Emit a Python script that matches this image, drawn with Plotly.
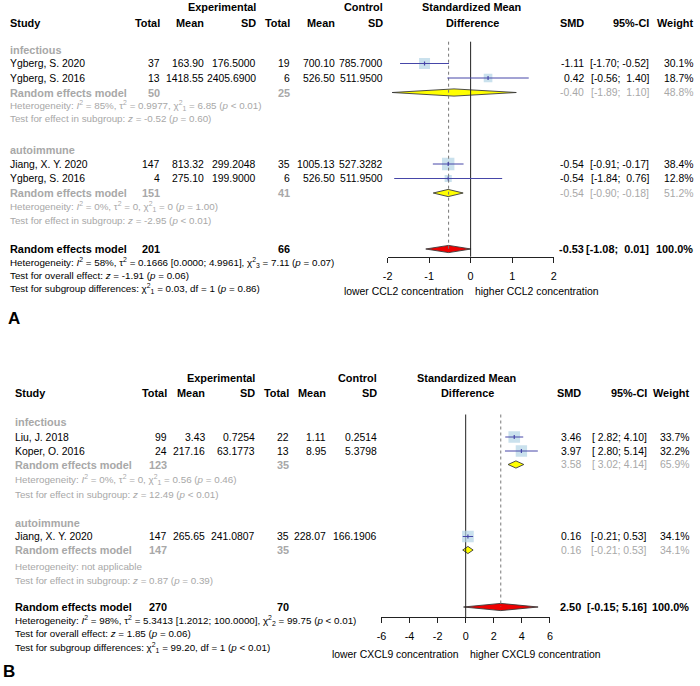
import math
import plotly.graph_objects as go

W, H = 700, 686
FONT = "Liberation Sans, Arial, Helvetica, sans-serif"
FS = 10.4      # main (regular) text size
FSB = 10.9     # bold text size
FSH = 9.8      # heterogeneity / test text size
GRAY = "#a8a8a8"
SQ_COL = "#b3d4e6"
CI_COL = "#4646a8"
NB = "\u00a0"

# ---------------- Panel A data (CCL2) ----------------
a_groups = ["infectious", "autoimmune"]
a_study = ["Ygberg, S. 2020", "Ygberg, S. 2016", "Jiang, X. Y. 2020", "Ygberg, S. 2016"]
a_group_of = [0, 0, 1, 1]
a_e_n = [37, 13, 147, 4]
a_e_mean = [163.90, 1418.55, 813.32, 275.10]
a_e_sd = [176.5000, 2405.6900, 299.2048, 199.9000]
a_c_n = [19, 6, 35, 6]
a_c_mean = [700.10, 526.50, 1005.13, 526.50]
a_c_sd = [785.7000, 511.9500, 527.3282, 511.9500]
a_smd = [-1.11, 0.42, -0.54, -0.54]
a_lo = [-1.70, -0.56, -0.91, -1.84]
a_hi = [-0.52, 1.40, -0.17, 0.76]
a_w = [30.1, 18.7, 38.4, 12.8]
a_sub_e_n = [50, 151]
a_sub_c_n = [25, 41]
a_sub_smd = [-0.40, -0.54]
a_sub_lo = [-1.89, -0.90]
a_sub_hi = [1.10, -0.18]
a_sub_w = [48.8, 51.2]
a_sub_I2 = ["85%", "0%"]
a_sub_tau2 = ["0.9977", "0"]
a_sub_Q = ["6.85", "0"]
a_sub_df = [1, 1]
a_sub_pQ = ["&lt; 0.01", "= 1.00"]
a_sub_z = ["-0.52", "-2.95"]
a_sub_pz = ["= 0.60", "&lt; 0.01"]
a_tot = dict(e_n=201, c_n=66, smd=-0.53, lo=-1.08, hi=0.01, w=100.0,
             I2="58%", tau2="0.1666 [0.0000; 4.9961]", Q="7.11", df=3, pQ="= 0.07",
             z="-1.91", pz="= 0.06", Qb="0.03", dfb=1, pb="= 0.86")
a_ticks = [-2, -1, 0, 1, 2]
a_lab_left = "lower CCL2 concentration"
a_lab_right = "higher CCL2 concentration"

# ---------------- Panel B data (CXCL9) ----------------
b_groups = ["infectious", "autoimmune"]
b_study = ["Liu, J. 2018", "Koper, O. 2016", "Jiang, X. Y. 2020"]
b_group_of = [0, 0, 1]
b_e_n = [99, 24, 147]
b_e_mean = [3.43, 217.16, 265.65]
b_e_sd = [0.7254, 63.1773, 241.0807]
b_c_n = [22, 13, 35]
b_c_mean = [1.11, 8.95, 228.07]
b_c_sd = [0.2514, 5.3798, 166.1906]
b_smd = [3.46, 3.97, 0.16]
b_lo = [2.82, 2.80, -0.21]
b_hi = [4.10, 5.14, 0.53]
b_w = [33.7, 32.2, 34.1]
b_sub_e_n = [123, 147]
b_sub_c_n = [35, 35]
b_sub_smd = [3.58, 0.16]
b_sub_lo = [3.02, -0.21]
b_sub_hi = [4.14, 0.53]
b_sub_w = [65.9, 34.1]
b_sub_I2 = ["0%", None]
b_sub_tau2 = ["0", None]
b_sub_Q = ["0.56", None]
b_sub_df = [1, None]
b_sub_pQ = ["= 0.46", None]
b_sub_z = ["12.49", "0.87"]
b_sub_pz = ["&lt; 0.01", "= 0.39"]
b_tot = dict(e_n=270, c_n=70, smd=2.50, lo=-0.15, hi=5.16, w=100.0,
             I2="98%", tau2="5.3413 [1.2012; 100.0000]", Q="99.75", df=2, pQ="&lt; 0.01",
             z="1.85", pz="= 0.06", Qb="99.20", dfb=1, pb="&lt; 0.01")
b_ticks = [-6, -4, -2, 0, 2, 4, 6]
b_lab_left = "lower CXCL9 concentration"
b_lab_right = "higher CXCL9 concentration"

A = dict(groups=a_groups, study=a_study, gof=a_group_of, e_n=a_e_n, e_mean=a_e_mean, e_sd=a_e_sd,
         c_n=a_c_n, c_mean=a_c_mean, c_sd=a_c_sd, smd=a_smd, lo=a_lo, hi=a_hi, w=a_w,
         s_e_n=a_sub_e_n, s_c_n=a_sub_c_n, s_smd=a_sub_smd, s_lo=a_sub_lo, s_hi=a_sub_hi, s_w=a_sub_w,
         s_I2=a_sub_I2, s_tau2=a_sub_tau2, s_Q=a_sub_Q, s_df=a_sub_df, s_pQ=a_sub_pQ,
         s_z=a_sub_z, s_pz=a_sub_pz, tot=a_tot, ticks=a_ticks, lab_l=a_lab_left, lab_r=a_lab_right)
B = dict(groups=b_groups, study=b_study, gof=b_group_of, e_n=b_e_n, e_mean=b_e_mean, e_sd=b_e_sd,
         c_n=b_c_n, c_mean=b_c_mean, c_sd=b_c_sd, smd=b_smd, lo=b_lo, hi=b_hi, w=b_w,
         s_e_n=b_sub_e_n, s_c_n=b_sub_c_n, s_smd=b_sub_smd, s_lo=b_sub_lo, s_hi=b_sub_hi, s_w=b_sub_w,
         s_I2=b_sub_I2, s_tau2=b_sub_tau2, s_Q=b_sub_Q, s_df=b_sub_df, s_pQ=b_sub_pQ,
         s_z=b_sub_z, s_pz=b_sub_pz, tot=b_tot, ticks=b_ticks, lab_l=b_lab_left, lab_r=b_lab_right)

# ---------------- layout (pixel positions) ----------------
LA = dict(xax="x", col=dict(study=7, e_n=155.5, e_mean=200, e_sd=253, c_n=287, c_mean=332.5, c_sd=381,
                            smd=585, ci=650, w=694.5),
          hdr=(7, 22.7), grp=[49.5, 149.5], rows=[63.5, 78, 164, 178.5],
          sub=[92.5, 193], shet=[105.5, 206.5], stest=[118.5, 220],
          tot=249, thet=262, ttest=275, tsub=288.3,
          axis_y=256.7, lab_y=291, null_top=41.7, px0=387, px1=555,
          letter=("A", 5, 318))
LB = dict(xax="x2", col=dict(study=12.3, e_n=163, e_mean=201.7, e_sd=252, c_n=286.5, c_mean=324, c_sd=375,
                             smd=582, ci=648, w=691),
          hdr=(378.3, 393), grp=[422, 523], rows=[437, 451, 536.5],
          sub=[464.5, 550], shet=[479.3, 566], stest=[494, 580],
          tot=607, thet=620, ttest=633.5, tsub=647,
          axis_y=617, lab_y=654, null_top=414.5, px0=380.8, px1=551.2,
          letter=("B", 0, 671))

fig = go.Figure()
ann = []
PAD_L, PAD_R = -2.0, 1.0   # compensation for annotation box padding


def T(x, y, s, anchor="right", size=None, bold=False, color="black"):
    if size is None:
        size = FSB if bold else FS
    if bold:
        s = f"<b>{s}</b>"
    if anchor == "left":
        x += PAD_L
    elif anchor == "right":
        x += PAD_R
    ann.append(dict(x=x / W, y=y, xref="paper", yref="y", text=s, showarrow=False,
                    xanchor=anchor, yanchor="middle", borderpad=0, borderwidth=0,
                    font=dict(family=FONT, size=size, color=color)))


def het_text(I2, tau2, Q, df, pQ):
    return (f"Heterogeneity: <i>I</i><sup>2</sup> = {I2}, \u03c4<sup>2</sup> = {tau2}, "
            f"\u03c7<sup>2</sup><sub>{df}</sub> = {Q} (<i>p</i> {pQ})")


def draw(D, L):
    c = L["col"]
    xa = L["xax"]
    lo_w = max(len(f"{v:.2f}") for v in D["lo"] + D["s_lo"] + [D["tot"]["lo"]])
    hi_w = max(len(f"{v:.2f}") for v in D["hi"] + D["s_hi"] + [D["tot"]["hi"]])

    def ci(lo, hi):
        return ("[" + f"{lo:.2f}".rjust(lo_w) + "; " + f"{hi:.2f}".rjust(hi_w) + "]").replace(" ", NB)

    # headers
    h1, h2 = L["hdr"]
    T(c["e_sd"], h1, "Experimental", bold=True)
    T(c["c_sd"], h1, "Control", bold=True)
    null_px = L["px0"] + (0 - D["ticks"][0]) / (D["ticks"][-1] - D["ticks"][0]) * (L["px1"] - L["px0"])
    T(null_px + 1, h1, "Standardized Mean", anchor="center", bold=True)
    T(null_px + 2, h2, "Difference", anchor="center", bold=True)
    T(c["study"], h2, "Study", anchor="left", bold=True)
    for k, lab in [("e_n", "Total"), ("e_mean", "Mean"), ("e_sd", "SD"), ("c_n", "Total"),
                   ("c_mean", "Mean"), ("c_sd", "SD"), ("smd", "SMD"), ("ci", "95%-CI"), ("w", "Weight")]:
        T(c[k], h2, lab, bold=True)

    # studies
    for i, name in enumerate(D["study"]):
        y = L["rows"][i]
        T(c["study"], y, name, anchor="left")
        T(c["e_n"], y, f"{D['e_n'][i]}")
        T(c["e_mean"], y, f"{D['e_mean'][i]:.2f}")
        T(c["e_sd"], y, f"{D['e_sd'][i]:.4f}")
        T(c["c_n"], y, f"{D['c_n'][i]}")
        T(c["c_mean"], y, f"{D['c_mean'][i]:.2f}")
        T(c["c_sd"], y, f"{D['c_sd'][i]:.4f}")
        T(c["smd"], y, f"{D['smd'][i]:.2f}")
        T(c["ci"], y, ci(D["lo"][i], D["hi"][i]))
        T(c["w"], y, f"{D['w'][i]:.1f}%")

    # subgroups
    for g, gname in enumerate(D["groups"]):
        T(c["study"], L["grp"][g], gname, anchor="left", bold=True, color=GRAY)
        y = L["sub"][g]
        T(c["study"], y, "Random effects model", anchor="left", bold=True, color=GRAY)
        T(c["e_n"], y, f"{D['s_e_n'][g]}", bold=True, color=GRAY)
        T(c["c_n"], y, f"{D['s_c_n'][g]}", bold=True, color=GRAY)
        T(c["smd"], y, f"{D['s_smd'][g]:.2f}", color=GRAY)
        T(c["ci"], y, ci(D["s_lo"][g], D["s_hi"][g]), color=GRAY)
        T(c["w"], y, f"{D['s_w'][g]:.1f}%", color=GRAY)
        if D["s_I2"][g] is None:
            hs = "Heterogeneity: not applicable"
        else:
            hs = het_text(D["s_I2"][g], D["s_tau2"][g], D["s_Q"][g], D["s_df"][g], D["s_pQ"][g])
        T(c["study"], L["shet"][g], hs, anchor="left", size=FSH, color=GRAY)
        T(c["study"], L["stest"][g],
          f"Test for effect in subgroup: <i>z</i> = {D['s_z'][g]} (<i>p</i> {D['s_pz'][g]})",
          anchor="left", size=FSH, color=GRAY)

    # overall
    t = D["tot"]
    y = L["tot"]
    T(c["study"], y, "Random effects model", anchor="left", bold=True)
    T(c["e_n"], y, f"{t['e_n']}", bold=True)
    T(c["c_n"], y, f"{t['c_n']}", bold=True)
    T(c["smd"], y, f"{t['smd']:.2f}", bold=True)
    T(c["ci"], y, ci(t["lo"], t["hi"]), bold=True)
    T(c["w"], y, f"{t['w']:.1f}%", bold=True)
    T(c["study"], L["thet"], het_text(t["I2"], t["tau2"], t["Q"], t["df"], t["pQ"]), anchor="left", size=FSH)
    T(c["study"], L["ttest"], f"Test for overall effect: <i>z</i> = {t['z']} (<i>p</i> {t['pz']})",
      anchor="left", size=FSH)
    T(c["study"], L["tsub"],
      f"Test for subgroup differences: \u03c7<sup>2</sup><sub>{t['dfb']}</sub> = {t['Qb']}, df = {t['dfb']} (<i>p</i> {t['pb']})",
      anchor="left", size=FSH)

    # axis labels
    T(null_px - 7.5, L["lab_y"], D["lab_l"], anchor="right")
    T(null_px + 6.5, L["lab_y"], D["lab_r"], anchor="left")
    letter, lx, ly = L["letter"]
    T(lx, ly, letter, anchor="left", size=17, bold=True)

    # ---- graphics ----
    dh = 3.6
    for g in range(len(D["groups"])):
        y = L["sub"][g]
        fig.add_trace(go.Scatter(x=[D["s_lo"][g], D["s_smd"][g], D["s_hi"][g], D["s_smd"][g], D["s_lo"][g]],
                                 y=[y, y - dh, y, y + dh, y], mode="lines", fill="toself",
                                 fillcolor="#ffff00", line=dict(color="#3a3a3a", width=0.9),
                                 xaxis=xa, yaxis="y", hoverinfo="skip", showlegend=False))
    y = L["tot"]
    fig.add_trace(go.Scatter(x=[t["lo"], t["smd"], t["hi"], t["smd"], t["lo"]],
                             y=[y, y - dh, y, y + dh, y], mode="lines", fill="toself",
                             fillcolor="#ee0000", line=dict(color="#3a3a3a", width=0.9),
                             xaxis=xa, yaxis="y", hoverinfo="skip", showlegend=False))
    fig.add_trace(go.Scatter(x=[0, 0], y=[L["null_top"], L["axis_y"]], mode="lines",
                             line=dict(color="#222222", width=1), xaxis=xa, yaxis="y",
                             hoverinfo="skip", showlegend=False))
    fig.add_trace(go.Scatter(x=D["smd"], y=L["rows"][:len(D["smd"])], mode="markers",
                             marker=dict(symbol="square", size=[2.0 * math.sqrt(w) for w in D["w"]],
                                         color=SQ_COL, line=dict(width=0)),
                             xaxis=xa, yaxis="y", hoverinfo="skip", showlegend=False))
    fig.add_trace(go.Scatter(x=[t["smd"], t["smd"]], y=[L["null_top"], L["tot"]], mode="lines",
                             line=dict(color="#777777", width=1, dash="dot"), xaxis=xa, yaxis="y",
                             hoverinfo="skip", showlegend=False))
    xs, ys = [], []
    for i in range(len(D["smd"])):
        xs += [D["lo"][i], D["hi"][i], None]
        ys += [L["rows"][i], L["rows"][i], None]
    fig.add_trace(go.Scatter(x=xs, y=ys, mode="lines", line=dict(color=CI_COL, width=1),
                             xaxis=xa, yaxis="y", hoverinfo="skip", showlegend=False))
    fig.add_trace(go.Scatter(x=D["smd"], y=L["rows"][:len(D["smd"])], mode="markers",
                             marker=dict(symbol="line-ns", size=3, line=dict(color=CI_COL, width=1.2)),
                             xaxis=xa, yaxis="y", hoverinfo="skip", showlegend=False))


draw(A, LA)
draw(B, LB)


def xaxis_cfg(D, L):
    return dict(domain=[L["px0"] / W, L["px1"] / W], range=[D["ticks"][0], D["ticks"][-1]],
                anchor="free", position=1 - L["axis_y"] / H, showline=True, linecolor="#222222",
                linewidth=1, ticks="outside", ticklen=5, tickwidth=1, tickcolor="#222222",
                tickvals=D["ticks"], ticktext=[str(v) for v in D["ticks"]], showgrid=False,
                zeroline=False, ticklabelstandoff=4,
                tickfont=dict(family=FONT, size=FS + 0.4, color="black"), fixedrange=True)


fig.update_layout(
    width=W, height=H, margin=dict(l=0, r=0, t=0, b=0),
    paper_bgcolor="white", plot_bgcolor="rgba(0,0,0,0)",
    xaxis=xaxis_cfg(A, LA), xaxis2=xaxis_cfg(B, LB),
    yaxis=dict(domain=[0, 1], range=[H, 0], visible=False, fixedrange=True),
    annotations=ann, showlegend=False,
)

fig.write_html("out.html", config={"displayModeBar": False},
               post_script="document.body.style.margin='0px';document.body.style.overflow='hidden';")
